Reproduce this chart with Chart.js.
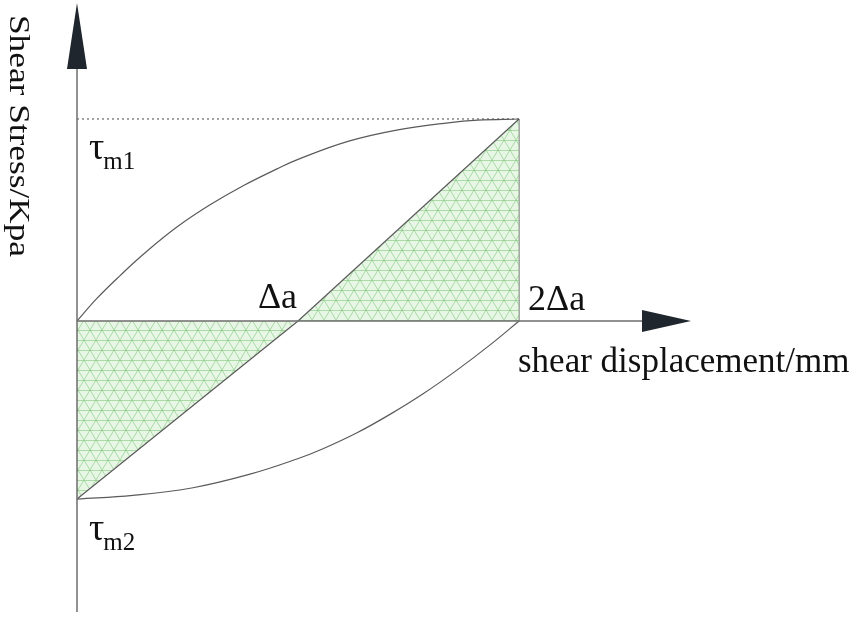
<!DOCTYPE html>
<html>
<head>
<meta charset="utf-8">
<script src="https://cdn.jsdelivr.net/npm/chart.js@4"></script>
<style>
  body { margin: 0; background: #fff; }
  #wrap { width: 852px; height: 617px; }
</style>
</head>
<body>
<div id="wrap"><canvas id="myChart"></canvas></div>
<script>
'use strict'

// values in units of Δa (x) and τm1 (y)
const upperX = [0, 0.09, 0.195, 0.303, 0.452, 0.602, 0.756, 0.905, 1.0, 1.226, 1.452, 1.679, 1.814, 2]
const upperY = [0, 0.112, 0.225, 0.333, 0.465, 0.575, 0.672, 0.753, 0.8, 0.889, 0.946, 0.981, 0.994, 1]
const lowerX = [0, 0.253, 0.525, 0.783, 0.995, 1.113, 1.267, 1.416, 1.566, 1.719, 1.869, 2]
const lowerY = [-0.881, -0.863, -0.825, -0.758, -0.683, -0.632, -0.553, -0.462, -0.36, -0.243, -0.118, 0]
const tauM1 = 1
const tauM2 = -0.881
const tickValues = [1, 2]
const tickLabels = ['Δa', '2Δa']
const xTitle = 'shear displacement/mm'
const yTitle = 'Shear Stress/Kpa'

const pts = (xs, ys) => xs.map((x, i) => ({ x: x, y: ys[i] }))

// green triangle mesh hatch
const makeHatch = () => {
  const c = document.createElement('canvas')
  c.width = 12
  c.height = 20
  const g = c.getContext('2d')
  g.fillStyle = 'rgba(205,235,200,0.45)'
  g.fillRect(0, 0, 12, 20)
  g.strokeStyle = 'rgba(120,195,115,0.55)'
  g.lineWidth = 1
  g.beginPath()
  g.moveTo(0, 0.5); g.lineTo(12, 0.5)
  g.moveTo(0, 10.5); g.lineTo(12, 10.5)
  g.moveTo(0, 0); g.lineTo(12, 20)
  g.moveTo(12, 0); g.lineTo(0, 20)
  g.stroke()
  return g.createPattern(c, 'repeat')
}
const hatch = makeHatch()

const lineStyle = {
  showLine: true,
  pointRadius: 0,
  borderColor: '#5a5a5a',
  borderWidth: 1.2,
  fill: false,
  clip: false
}

const drawArrow = (ctx, a, b, c) => {
  ctx.beginPath()
  ctx.moveTo(a[0], a[1])
  ctx.lineTo(b[0], b[1])
  ctx.lineTo(c[0], c[1])
  ctx.closePath()
  ctx.fill()
}

const decorPlugin = {
  id: 'decor',
  afterDatasetsDraw(chart) {
    const ctx = chart.ctx
    const xs = chart.scales.x
    const ys = chart.scales.y
    const area = chart.chartArea
    const x0 = xs.getPixelForValue(0)
    const y0 = ys.getPixelForValue(0)

    ctx.save()
    // axes
    ctx.strokeStyle = '#6e6e6e'
    ctx.lineWidth = 1.5
    ctx.beginPath()
    ctx.moveTo(x0, area.bottom)
    ctx.lineTo(x0, area.top + 64)
    ctx.moveTo(x0, y0)
    ctx.lineTo(area.right - 48, y0)
    ctx.stroke()

    ctx.fillStyle = '#1f262d'
    drawArrow(ctx, [x0, area.top], [x0 - 10, area.top + 66], [x0 + 10, area.top + 66])
    drawArrow(ctx, [area.right, y0], [area.right - 49, y0 - 11], [area.right - 49, y0 + 11])

    // texts
    ctx.fillStyle = '#111'
    ctx.textBaseline = 'alphabetic'
    ctx.font = '36px "Liberation Serif"'
    ctx.textAlign = 'right'
    ctx.fillText(tickLabels[0], xs.getPixelForValue(tickValues[0]) - 1, y0 - 13)
    ctx.textAlign = 'left'
    ctx.fillText(tickLabels[1], xs.getPixelForValue(tickValues[1]) + 9, y0 - 11)

    ctx.font = '35px "Liberation Serif"'
    ctx.fillText(xTitle, 518, y0 + 51)

    const tau = (yv, sub, dy) => {
      const yb = ys.getPixelForValue(yv) + dy
      ctx.font = '38px "Liberation Serif"'
      ctx.fillText('τ', x0 + 12, yb)
      const w = ctx.measureText('τ').width
      ctx.font = '25px "Liberation Serif"'
      ctx.fillText(sub, x0 + 11 + w, yb + 10)
    }
    tau(tauM1, 'm1', 40)
    tau(tauM2, 'm2', 41)

    // rotated y title, stretched to its length in the picture
    ctx.save()
    ctx.translate(10, 15)
    ctx.rotate(Math.PI / 2)
    ctx.font = '29px "Liberation Serif"'
    const tw = ctx.measureText(yTitle).width
    ctx.scale(242 / tw, 1)
    ctx.textAlign = 'left'
    ctx.fillText(yTitle, 0, 0)
    ctx.restore()

    ctx.restore()
  }
}

const ctx = document.getElementById('myChart')

const myChart = new Chart(ctx, {
  type: 'scatter',
  data: {
    datasets: [
      { ...lineStyle, data: pts(upperX, upperY), tension: 0.4 },
      { ...lineStyle, data: pts(lowerX, lowerY), tension: 0.4 },
      { ...lineStyle, data: [{ x: 1, y: 0 }, { x: 2, y: tauM1 }], fill: 'origin', backgroundColor: hatch },
      { ...lineStyle, data: [{ x: 0, y: tauM2 }, { x: 1, y: 0 }], fill: 'origin', backgroundColor: hatch },
      { ...lineStyle, data: [{ x: 2, y: 0 }, { x: 2, y: tauM1 }], borderColor: '#777' },
      { ...lineStyle, data: [{ x: 0, y: tauM1 }, { x: 2, y: tauM1 }], borderDash: [2, 3], borderWidth: 1, borderColor: '#444' }
    ]
  },
  options: {
    responsive: true,
    maintainAspectRatio: false,
    animation: false,
    layout: { padding: { left: 77, top: 3, right: 161, bottom: 5 } },
    plugins: { legend: { display: false }, tooltip: { enabled: false } },
    scales: {
      x: { type: 'linear', min: 0, max: 2.778, display: false },
      y: { type: 'linear', min: -1.44, max: 1.574, display: false }
    }
  },
  plugins: [decorPlugin]
})
</script>
</body>
</html>
